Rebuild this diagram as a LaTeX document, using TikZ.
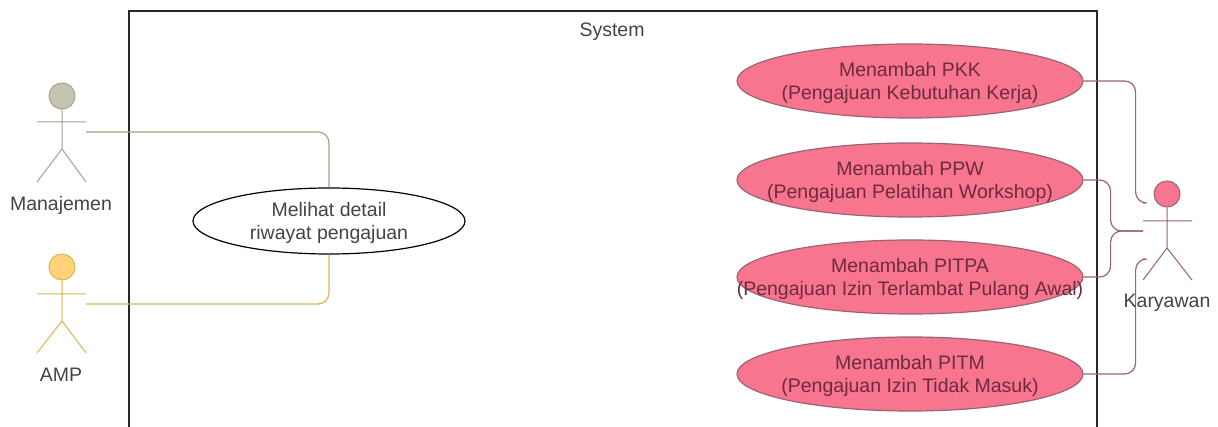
\documentclass[tikz,border=0pt]{standalone}
\usepackage{fontspec}
\setmainfont{Liberation Sans}
\usetikzlibrary{shapes.geometric}
\definecolor{pinkfill}{HTML}{F7758F}
\definecolor{pinkline}{HTML}{9A6472}
\definecolor{pinktext}{HTML}{6E2A3E}
\definecolor{mangray}{HTML}{C4C4B0}
\definecolor{manline}{HTML}{A3A38E}
\definecolor{ampfill}{HTML}{FFD27A}
\definecolor{ampline}{HTML}{D6B656}
\definecolor{labeltext}{HTML}{444444}
\newcommand{\twolines}[2]{\makebox[0pt][c]{\raisebox{-7.4pt}[0pt][0pt]{\setlength{\tabcolsep}{0pt}\begin{tabular}{c}#1\\#2\end{tabular}}}}
\tikzset{
  x=1pt,y=-1pt,
  usecase/.style={ellipse,draw,line width=1.2pt,inner sep=0pt,minimum width=#1,font=\fontsize{19.5}{23}\selectfont},
  pinkcase/.style={usecase=346pt,minimum height=74pt,fill=pinkfill,draw=pinkline,text=pinktext},
  head/.style={circle,draw,line width=1pt,minimum size=26pt,inner sep=0pt},
  actorlabel/.style={text=labeltext,font=\fontsize{19.5}{23}\selectfont,inner sep=0pt},
  limb/.style={line width=1pt},
  link/.style={line width=1.2pt,rounded corners=11pt},
}
\begin{document}
\begin{tikzpicture}
\useasboundingbox[fill=white] (0,0) rectangle (1218,427);
% system boundary
\coordinate (sysbl) at (129,427);
\coordinate (systl) at (129,11);
\coordinate (systr) at (1097,11);
\coordinate (sysbr) at (1097,427);
\draw[line width=1.2pt,black!85] (sysbl) -- (systl) -- (systr) -- (sysbr);
\node[actorlabel] (system) at (612,32) {System};
% connectors
\coordinate (manlink) at (86,132);
\coordinate (amplink) at (86,304);
\coordinate (karA) at (1143,203);
\coordinate (karB) at (1143,231);
\coordinate (karC) at (1143,259);
\node[usecase=272pt,minimum height=66pt,fill=white,draw=black,text=labeltext] (detail) at (329,221) {\twolines{Melihat detail}{riwayat pengajuan}};
\node[pinkcase] (pkk) at (910,81) {\twolines{Menambah PKK}{(Pengajuan Kebutuhan Kerja)}};
\node[pinkcase] (ppw) at (910,180) {\twolines{Menambah PPW}{(Pengajuan Pelatihan Workshop)}};
\node[pinkcase] (pitpa) at (910,277) {\twolines{Menambah PITPA}{(Pengajuan Izin Terlambat Pulang Awal)}};
\node[pinkcase] (pitm) at (910,374) {\twolines{Menambah PITM}{(Pengajuan Izin Tidak Masuk)}};
\draw[link,manline] (manlink) -| (detail.north);
\draw[link,ampline] (amplink) -| (detail.south);
\draw[link,pinkline] (pkk.east) -- ++(52,0) |- (karA);
\draw[link,pinkline] (ppw.east) -- ++(27,0) |- (karB);
\draw[link,pinkline] (pitpa.east) -- ++(27,0) |- (karB);
\draw[link,pinkline] (pitm.east) -- ++(52,0) |- (karC);
% Manajemen
\node[head,fill=mangray,draw=manline] (manhead) at (62,96) {};
\coordinate (manhip) at (62,149);
\coordinate (manarmL) at (37,122);
\coordinate (manarmR) at (86,122);
\coordinate (manfootL) at (37,182);
\coordinate (manfootR) at (86,182);
\draw[limb,manline] (manhead) -- (manhip) (manarmL) -- (manarmR) (manfootL) -- (manhip) -- (manfootR);
\node[actorlabel] (manlabel) at (61,205) {Manajemen};
% AMP
\node[head,fill=ampfill,draw=ampline] (amphead) at (62,267) {};
\coordinate (amphip) at (62,321);
\coordinate (amparmL) at (37,294);
\coordinate (amparmR) at (86,294);
\coordinate (ampfootL) at (37,353);
\coordinate (ampfootR) at (86,353);
\draw[limb,ampline] (amphead) -- (amphip) (amparmL) -- (amparmR) (ampfootL) -- (amphip) -- (ampfootR);
\node[actorlabel] (amplabel) at (61,375) {AMP};
% Karyawan
\node[head,fill=pinkfill,draw=pinkline] (karhead) at (1167,194) {};
\coordinate (karhip) at (1167,248);
\coordinate (kararmL) at (1143,221);
\coordinate (kararmR) at (1192,221);
\coordinate (karfootL) at (1143,280);
\coordinate (karfootR) at (1192,280);
\draw[limb,pinkline] (karhead) -- (karhip) (kararmL) -- (kararmR) (karfootL) -- (karhip) -- (karfootR);
\node[actorlabel] (karlabel) at (1167,303) {Karyawan};
\end{tikzpicture}
\end{document}
